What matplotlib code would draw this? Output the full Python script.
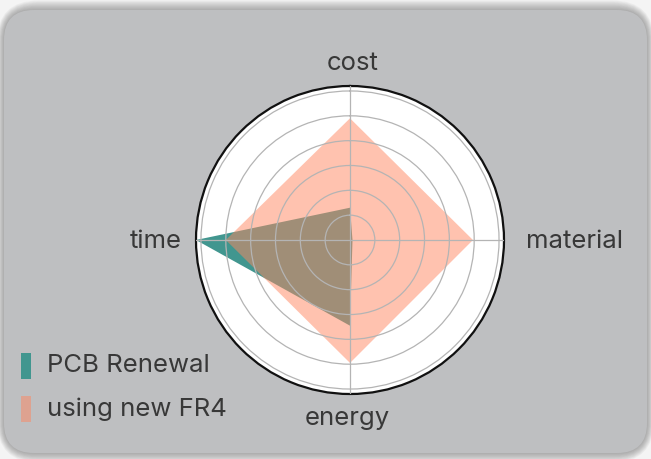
import numpy as np
import matplotlib
matplotlib.use("Agg")
import matplotlib.pyplot as plt
from matplotlib.patches import FancyBboxPatch, Rectangle

categories = ["cost", "material", "energy", "time"]
pcb_renewal = [1.3, 0.1, 3.45, 6.2]
new_fr4 = [4.9, 4.95, 4.95, 5.0]
ring_ticks = [1, 2, 3, 4, 5, 6]
r_max = 6.2

teal = "#41968f"
salmon = "#ff8760"
card_color = "#bebfc1"
text_color = "#383838"

plt.rcParams["font.family"] = ["Inter", "DejaVu Sans"]

W, H = 651, 459
fig = plt.figure(figsize=(W / 100, H / 100), dpi=100)
fig.patch.set_facecolor("#f4f4f4")

# card with soft shadow
bg = fig.add_axes([0, 0, 1, 1])
bg.set_xlim(0, W)
bg.set_ylim(H, 0)
bg.axis("off")
for i in range(12, 0, -1):
    bg.add_patch(FancyBboxPatch((4 - i * 0.6, 10 - i * 0.8), 643 + i * 1.2, 443 + i * 1.6,
                                boxstyle=f"round,pad=0,rounding_size={30 + i}",
                                facecolor="#555555", edgecolor="none", alpha=0.045))
bg.add_patch(FancyBboxPatch((4, 10), 643, 443, boxstyle="round,pad=0,rounding_size=30",
                            facecolor=card_color, edgecolor="none"))

# radar
cx, cy, R = 350, 240, 154
ax = fig.add_axes([(cx - R) / W, (H - cy - R) / H, 2 * R / W, 2 * R / H], projection="polar")
ax.set_theta_offset(np.pi / 2)
ax.set_theta_direction(-1)
ax.set_facecolor("white")

angles = np.linspace(0, 2 * np.pi, len(categories), endpoint=False)
ang_closed = np.concatenate([angles, angles[:1]])

pcb_closed = np.concatenate([pcb_renewal, pcb_renewal[:1]])
fr4_closed = np.concatenate([new_fr4, new_fr4[:1]])
ax.fill(ang_closed, pcb_closed, color=teal, alpha=1.0, zorder=1.0, linewidth=0)
ax.fill(ang_closed, fr4_closed, color=salmon, alpha=0.5, zorder=1.1, linewidth=0)

ax.set_axisbelow(False)
ax.set_ylim(0, r_max)
ax.set_yticks(ring_ticks)
ax.set_yticklabels([])
ax.set_xticks(angles)
ax.set_xticklabels([])
ax.grid(True, color="#b4b4b4", linewidth=0.9)
ax.spines["polar"].set_color("#111111")
ax.spines["polar"].set_linewidth(1.6)
ax.tick_params(length=0)

label_pos = {
    "cost": (353, 64),
    "material": (574, 242),
    "energy": (347, 418),
    "time": (156, 242),
}
for name in categories:
    x, y = label_pos[name]
    bg.text(x, y, name, ha="center", va="center", fontsize=18.5, color=text_color, zorder=10)

# legend
legend_items = [("PCB Renewal", teal, 1.0, 366), ("using new FR4", salmon, 0.5, 409)]
for label, col, a, y in legend_items:
    bg.add_patch(Rectangle((21, y - 13), 10, 26, facecolor=col, alpha=a, edgecolor="none", zorder=10))
    bg.text(47, y, label, ha="left", va="center", fontsize=18.5, color=text_color, zorder=10)

fig.savefig("out.png", dpi=100, facecolor=fig.get_facecolor())
